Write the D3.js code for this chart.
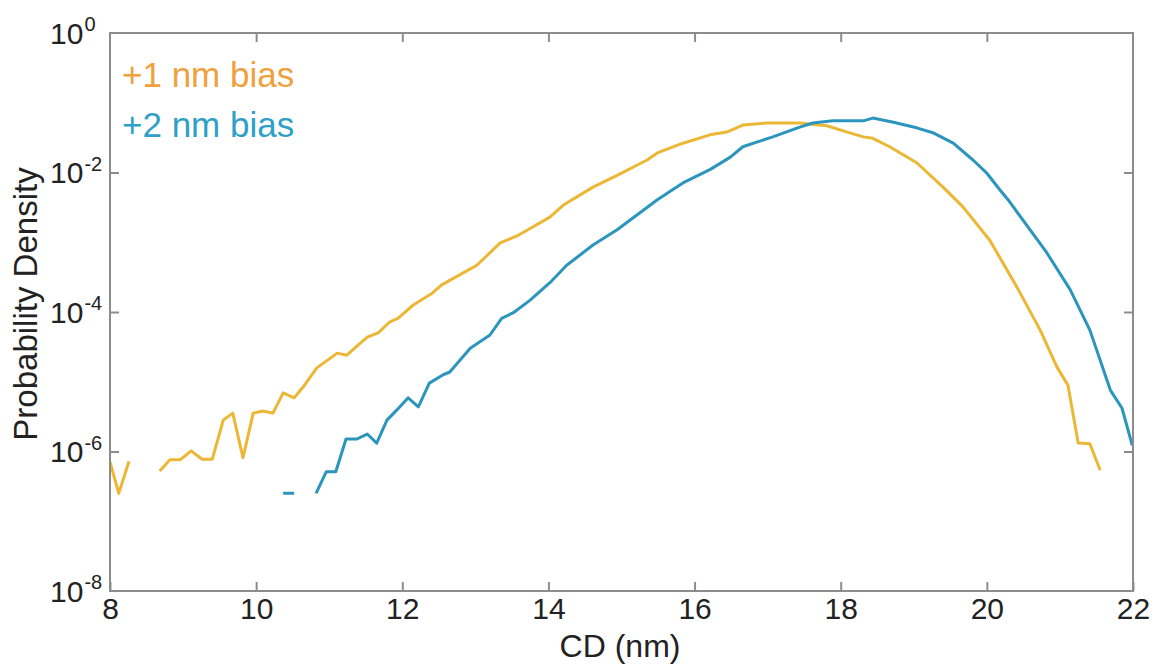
<!DOCTYPE html>
<html>
<head>
<meta charset="utf-8">
<script src="https://cdn.jsdelivr.net/npm/d3@7"></script>
<style>
  body { margin: 0; background: #fff; }
  svg text { font-family: Arial, "Liberation Sans", sans-serif; fill: #222; }
</style>
</head>
<body>
<div class="chart"></div>
<script>
// CD bins (nm) and probability density, +1 nm bias (null = no counts)
const cd1 = [8.00, 8.12, 8.26, 8.45, 8.68, 8.82, 8.96, 9.11, 9.26, 9.40, 9.55, 9.68, 9.82, 9.96, 10.09, 10.23, 10.37, 10.52, 10.64, 10.83,
  11.11, 11.24, 11.52, 11.67, 11.83, 11.94, 12.15, 12.41, 12.54, 13.02, 13.34, 13.57, 14.02, 14.20, 14.61, 14.94, 15.35, 15.49, 15.84,
  16.21, 16.44, 16.66, 16.99, 17.44, 17.81, 18.09, 18.31, 18.44, 18.67, 19.04, 19.40, 19.67, 20.04, 20.41, 20.73, 20.96, 21.11, 21.25,
  21.41, 21.55];
const pd1 = [7.08e-7, 2.51e-7, 7.24e-7, null, 5.25e-7, 7.59e-7, 7.59e-7, 1.02e-6, 7.76e-7, 7.76e-7, 2.82e-6, 3.55e-6, 8.13e-7, 3.55e-6,
  3.80e-6, 3.55e-6, 6.92e-6, 5.89e-6, 8.32e-6, 1.58e-5, 2.57e-5, 2.40e-5, 4.37e-5, 5.01e-5, 7.24e-5, 8.13e-5, 1.26e-4, 1.86e-4,
  2.45e-4, 4.68e-4, 9.77e-4, 1.23e-3, 2.29e-3, 3.39e-3, 6.17e-3, 9.12e-3, 1.51e-2, 1.91e-2, 2.63e-2, 3.47e-2, 3.80e-2, 4.79e-2,
  5.13e-2, 5.13e-2, 4.68e-2, 3.80e-2, 3.24e-2, 3.09e-2, 2.34e-2, 1.38e-2, 6.17e-3, 3.24e-3, 1.07e-3, 2.29e-4, 5.50e-5, 1.62e-5,
  8.91e-6, 1.32e-6, 1.29e-6, 5.37e-7];

// +2 nm bias
const cd2 = [10.37, 10.52, 10.67, 10.82, 10.96, 11.09, 11.23, 11.38, 11.52, 11.65, 11.79, 11.93, 12.08, 12.22, 12.37, 12.56, 12.65,
  12.93, 13.20, 13.36, 13.52, 13.75, 14.02, 14.25, 14.61, 14.94, 15.39, 15.49, 15.84, 16.21, 16.49, 16.66, 17.07, 17.44, 17.62,
  17.89, 18.31, 18.44, 18.72, 19.04, 19.26, 19.54, 19.81, 20.00, 20.18, 20.29, 20.82, 21.14, 21.41, 21.69, 21.85, 21.99];
const pd2 = [2.51e-7, 2.51e-7, null, 2.51e-7, 5.13e-7, 5.13e-7, 1.51e-6, 1.51e-6, 1.78e-6, 1.32e-6, 2.82e-6, 3.98e-6, 5.89e-6,
  4.37e-6, 9.55e-6, 1.26e-5, 1.38e-5, 3.02e-5, 4.68e-5, 8.13e-5, 9.77e-5, 1.48e-4, 2.63e-4, 4.68e-4, 9.12e-4, 1.51e-3, 3.39e-3,
  4.07e-3, 7.08e-3, 1.10e-2, 1.66e-2, 2.34e-2, 3.24e-2, 4.47e-2, 5.13e-2, 5.50e-2, 5.50e-2, 6.03e-2, 5.25e-2, 4.37e-2, 3.72e-2,
  2.63e-2, 1.51e-2, 9.77e-3, 5.62e-3, 4.07e-3, 7.08e-4, 2.09e-4, 5.50e-5, 7.59e-6, 4.17e-6, 1.23e-6];

const xTicks = [8, 10, 12, 14, 16, 18, 20, 22];
const yTicks = [1, 1e-2, 1e-4, 1e-6, 1e-8];
const yExps = ['0', '-2', '-4', '-6', '-8'];
const legendLabels = ['+1 nm bias', '+2 nm bias'];

const width = 1157, height = 665;
const mLeft = 110, mRight = 1133, mTop = 33, mBottom = 591;
const yellow = '#ecb735', blue = '#2b95bd';

let svg = d3.select('.chart').append('svg')
  .attr('width', width)
  .attr('height', height);

let x = d3.scaleLinear().domain([8, 22]).range([mLeft, mRight]);
let y = d3.scaleLog().domain([1e-8, 1]).range([mBottom, mTop]);

svg.append('clipPath').attr('id', 'plot')
  .append('rect')
  .attr('x', mLeft).attr('y', mTop)
  .attr('width', mRight - mLeft).attr('height', mBottom - mTop);

let line = d3.line()
  .defined(function(d) { return d[1] != null; })
  .x(function(d) { return x(d[0]); })
  .y(function(d) { return y(d[1]); });

let series = [
  { cd: cd1, pd: pd1, color: yellow },
  { cd: cd2, pd: pd2, color: blue }
];

svg.append('g').attr('clip-path', 'url(#plot)')
  .selectAll('path')
  .data(series)
  .enter().append('path')
  .attr('d', function(s) { return line(s.cd.map(function(c, i) { return [c, s.pd[i]]; })); })
  .attr('fill', 'none')
  .attr('stroke', function(s) { return s.color; })
  .attr('stroke-width', 3)
  .attr('stroke-linejoin', 'round');

// frame
const axisColor = '#8c8c8c';
svg.append('rect')
  .attr('x', mLeft).attr('y', mTop)
  .attr('width', mRight - mLeft).attr('height', mBottom - mTop)
  .attr('fill', 'none')
  .attr('stroke', axisColor)
  .attr('stroke-width', 2);

function styleAxis(g) {
  g.select('.domain').remove();
  g.selectAll('.tick line').attr('stroke', axisColor).attr('stroke-width', 2);
}

// bottom axis with labels, top axis ticks only
svg.append('g')
  .attr('transform', 'translate(0,' + mBottom + ')')
  .call(d3.axisBottom(x).tickValues(xTicks).tickSizeInner(-9).tickSizeOuter(0).tickPadding(7).tickFormat(d3.format('d')))
  .call(styleAxis)
  .selectAll('text')
  .attr('font-size', 30)
  .attr('fill', '#222');

svg.append('g')
  .attr('transform', 'translate(0,' + mTop + ')')
  .call(d3.axisTop(x).tickValues(xTicks.slice(1, -1)).tickSizeInner(-9).tickSizeOuter(0).tickFormat(''))
  .call(styleAxis);

// left / right ticks
svg.append('g')
  .attr('transform', 'translate(' + mLeft + ',0)')
  .call(d3.axisLeft(y).tickValues(yTicks.slice(1, -1)).tickSizeInner(-9).tickSizeOuter(0).tickFormat(''))
  .call(styleAxis);

svg.append('g')
  .attr('transform', 'translate(' + mRight + ',0)')
  .call(d3.axisRight(y).tickValues(yTicks.slice(1, -1)).tickSizeInner(-9).tickSizeOuter(0).tickFormat(''))
  .call(styleAxis);

// y tick labels with superscript exponents
let yLab = svg.append('g').selectAll('text')
  .data(yTicks)
  .enter().append('text')
  .attr('x', 50)
  .attr('y', function(d) { return y(d); })
  .attr('dy', '0.36em')
  .attr('font-size', 30)
  .text('10');

yLab.append('tspan')
  .attr('dy', '-0.62em')
  .attr('dx', 1)
  .attr('font-size', 20)
  .text(function(d, i) { return yExps[i]; });

// axis titles
svg.append('text')
  .attr('x', 620)
  .attr('y', 657)
  .attr('text-anchor', 'middle')
  .attr('font-size', 32)
  .text('CD (nm)');

svg.append('text')
  .attr('transform', 'translate(37,' + 304 + ') rotate(-90)')
  .attr('text-anchor', 'middle')
  .attr('font-size', 33)
  .text('Probability Density');

// legend
svg.append('g').selectAll('text')
  .data(legendLabels)
  .enter().append('text')
  .attr('x', 122)
  .attr('y', function(d, i) { return 87 + i * 50; })
  .attr('font-size', 35)
  .style('fill', function(d, i) { return i === 0 ? '#f0a03c' : '#2e9fc6'; })
  .text(function(d) { return d; });
</script>
</body>
</html>
